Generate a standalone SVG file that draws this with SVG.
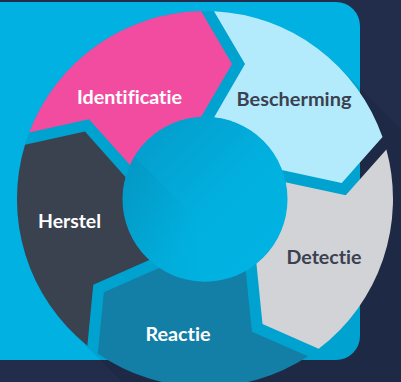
<svg xmlns="http://www.w3.org/2000/svg" width="401" height="382" viewBox="0 0 401 382">
<defs>
<style>
.lbl{font-family:Lato,"Open Sans","Liberation Sans",sans-serif;font-weight:700;font-size:18px;text-anchor:middle;font-variant-ligatures:none;font-feature-settings:"liga" 0,"clig" 0}
.dark{fill:#3b4150}
.light{fill:#ffffff}
</style>
<linearGradient id="hub" x1="0" y1="0" x2="1" y2="1">
<stop offset="0" stop-color="#0599c8"/>
<stop offset="0.55" stop-color="#01b0df"/>
<stop offset="1" stop-color="#00b4e3"/>
</linearGradient>
<linearGradient id="streak" gradientUnits="userSpaceOnUse" x1="125" y1="175" x2="200" y2="175">
<stop offset="0" stop-color="#000" stop-opacity="0.05"/>
<stop offset="1" stop-color="#000" stop-opacity="0"/>
</linearGradient>
<clipPath id="hubclip"><circle cx="205" cy="199.2" r="82.5"/></clipPath>
<path id="seg" d="M 214,11.22 A 188 188 0 0 1 382.52,137.12 L 341.73,182.96 L 281.65,169.89 A 82 82 0 0 0 214,117.5 L 245,64 Z"/>
</defs>
<rect x="0" y="0" width="401" height="382" fill="#212d4b"/>
<rect x="-40" y="2" width="400" height="358" rx="24" fill="#00b1e1"/>
<path d="M 72.06,331.94 A 188 188 0 0 1 337.94,66.06 L 737.94,466.06 L 472.06,731.94 Z" fill="#000" fill-opacity="0.08"/>
<g id="connectors"/>
<g id="identificatie">
<use href="#seg" fill="#f24ca0" transform="rotate(-72 205 199)"/>
<text class="lbl light" x="129.5" y="104" textLength="105" lengthAdjust="spacingAndGlyphs">Identificatie</text>
</g>
<g id="bescherming">
<use href="#seg" fill="#b3ebfd"/>
<text class="lbl dark" x="294" y="106" textLength="115" lengthAdjust="spacingAndGlyphs">Bescherming</text>
</g>
<g id="detectie">
<use href="#seg" fill="#d2d3d6" transform="rotate(72 205 199)"/>
<text class="lbl dark" x="324" y="264" textLength="75" lengthAdjust="spacingAndGlyphs">Detectie</text>
</g>
<g id="reactie">
<use href="#seg" fill="#137fa6" transform="rotate(144 205 199)"/>
<text class="lbl light" x="178" y="340.5" textLength="65" lengthAdjust="spacingAndGlyphs">Reactie</text>
</g>
<g id="herstel">
<use href="#seg" fill="#3a414f" transform="rotate(216 205 199)"/>
<text class="lbl light" x="69.5" y="228.3" textLength="63" lengthAdjust="spacingAndGlyphs">Herstel</text>
</g>
<g id="hub-node">
<circle cx="205" cy="199.2" r="82.5" fill="url(#hub)"/>
<polygon points="100,150 128,150 200,222 200,300 100,300" fill="url(#streak)" clip-path="url(#hubclip)"/>
</g>
</svg>
